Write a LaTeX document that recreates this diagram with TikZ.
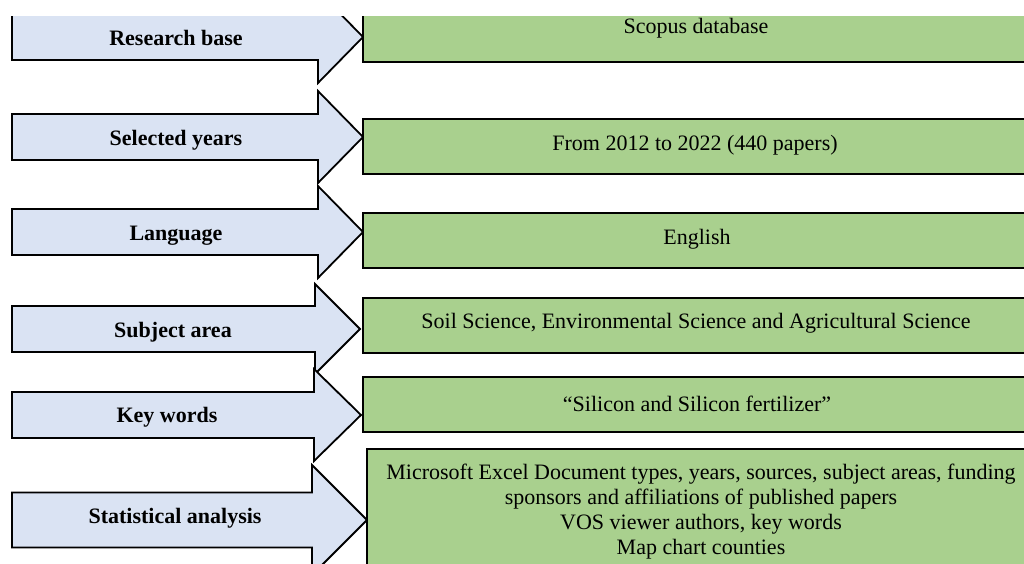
\documentclass[tikz,border=0pt]{standalone}
\usepackage{fontspec}
\setmainfont{Liberation Serif}
\definecolor{arrowblue}{HTML}{DAE3F3}
\definecolor{boxgreen}{HTML}{A9D08E}
\newcommand\flowarrow[6]{% #1 name, #2 cy, #3 half body, #4 half head, #5 notch x, #6 tip x
  \draw[flowshape] (12,#2-#3) -- (#5,#2-#3) -- (#5,#2-#4) -- (#6,#2) -- (#5,#2+#4) -- (#5,#2+#3) -- (12,#2+#3) -- cycle;
  \coordinate (#1) at (#6,#2);}
\begin{document}
\begin{tikzpicture}[x=1pt,y=-1pt,line join=miter,
  flowshape/.style={draw=black,line width=1.8pt,fill=arrowblue},
  greenbox/.style={draw=black,line width=1.8pt,fill=boxgreen},
  lab/.style={anchor=base,inner sep=0pt,font=\fontsize{22}{25}\selectfont\bfseries},
  txt/.style={anchor=base,inner sep=0pt,font=\fontsize{22}{25}\selectfont,align=center}]
\useasboundingbox (0,0) rectangle (1024,563);
\fill[white] (0,0) rectangle (1024,563);
\begin{scope}
\clip (0,16) rectangle (1024,563);
\flowarrow{t1}{37}{23}{46}{318}{363}
\flowarrow{t2}{137}{23}{46}{318}{363}
\flowarrow{t3}{232}{23}{46}{318}{363}
\flowarrow{t4}{329}{23}{45}{315}{360}
\flowarrow{t5}{415}{23}{46}{314}{361}
\flowarrow{t6}{520}{27.5}{55}{312}{367}
\draw[greenbox] (363,-20) rectangle (1029,62);
\draw[greenbox] (363,119) rectangle (1029,174);
\draw[greenbox] (363,213) rectangle (1029,268);
\draw[greenbox] (363,298) rectangle (1029,353);
\draw[greenbox] (363,377) rectangle (1029,432);
\draw[greenbox] (367,449) rectangle (1035,600);
\end{scope}
\node[lab] (l1) at (176,45) {Research base};
\node[lab] (l2) at (176,145) {Selected years};
\node[lab] (l3) at (176,240) {Language};
\node[lab] (l4) at (173,337) {Subject area};
\node[lab] (l5) at (167,422) {Key words};
\node[lab] (l6) at (175,523) {Statistical analysis};
\node[txt] (b1) at (696,33) {Scopus database};
\node[txt] (b2) at (695,150) {From 2012 to 2022 (440 papers)};
\node[txt] (b3) at (697,244) {English};
\node[txt] (b4) at (696,328) {Soil Science, Environmental Science and Agricultural Science};
\node[txt] (b5) at (697,411) {“Silicon and Silicon fertilizer”};
\node[txt] (b6) at (701,554) {Microsoft Excel Document types, years, sources, subject areas, funding\\sponsors and affiliations of published papers\\VOS viewer authors, key words\\Map chart counties};
\end{tikzpicture}
\end{document}
